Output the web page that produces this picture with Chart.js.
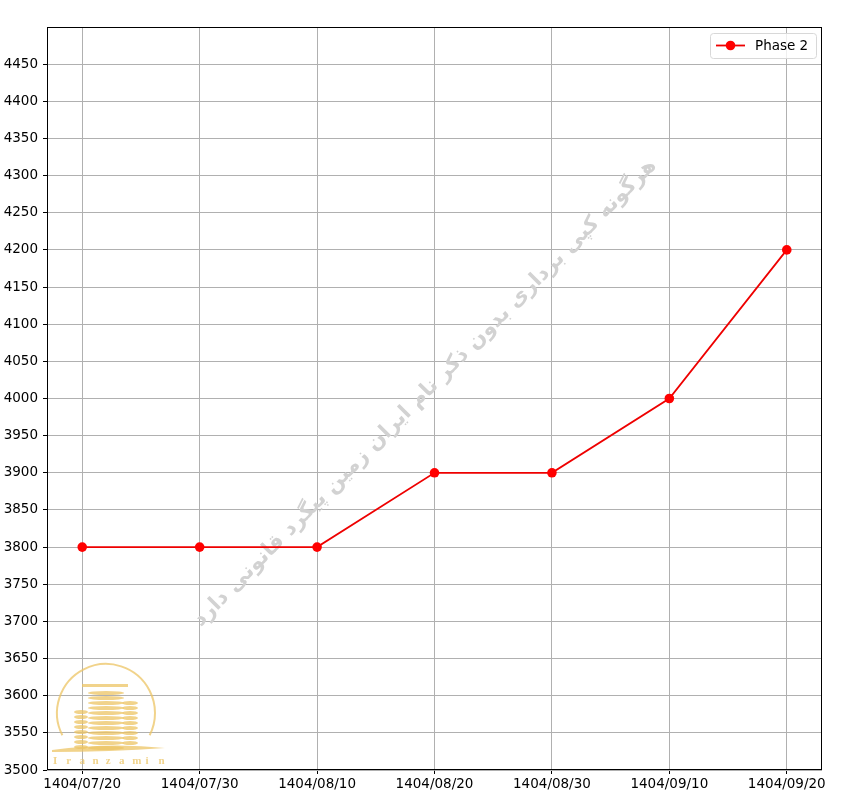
<!DOCTYPE html>
<html>
<head>
<meta charset="utf-8">
<script src="https://cdn.jsdelivr.net/npm/chart.js@4/dist/chart.umd.min.js"></script>
<style>
html,body{margin:0;padding:0;background:#fff;}
#wrap{width:853px;height:810px;position:relative;}
</style>
</head>
<body>
<div id="wrap"><canvas id="c" width="853" height="810"></canvas></div>
<script>
const dateLabels = ['1404/07/20','1404/07/30','1404/08/10','1404/08/20','1404/08/30','1404/09/10','1404/09/20'];
const phase2Values = [3800, 3800, 3800, 3900, 3900, 4000, 4200];
const seriesName = 'Phase 2';
const watermarkText = 'هرگونه کپی برداری بدون ذکر نام ایران زمین پیگرد قانونی دارد';
const logoText = 'Iranzamin';

const FONT = '"DejaVu Sans", sans-serif';

const framePlugin = {
  id: 'frame',
  beforeDatasetsDraw(chart) {
    const ctx = chart.ctx;
    ctx.save();
    ctx.fillStyle = '#d2d2d2';
    ctx.font = 'bold 21px ' + FONT;
    ctx.textAlign = 'center';
    ctx.textBaseline = 'middle';
    ctx.translate(425, 393);
    ctx.rotate(-Math.PI / 4 - 0.005);
    ctx.direction = 'rtl';
    ctx.fillText(watermarkText, 0, 0);
    ctx.restore();
    ctx.save();
    const gold = 'rgba(236,196,100,0.75)';
    ctx.strokeStyle = gold;
    ctx.lineWidth = 2;
    ctx.beginPath();
    ctx.arc(106, 713, 49, Math.PI * 0.85, Math.PI * 2.15);
    ctx.stroke();
    ctx.fillStyle = gold;
    const bldg = (x, w, top, bottom) => {
      for (let y = top; y < bottom; y += 5) {
        ctx.beginPath();
        ctx.ellipse(x + w / 2, y, w / 2, 2, 0, 0, Math.PI * 2);
        ctx.fill();
      }
    };
    bldg(74, 14, 712, 748);
    bldg(122, 16, 703, 748);
    bldg(88, 36, 693, 750);
    ctx.fillRect(82, 684, 46, 3);
    ctx.beginPath();
    ctx.moveTo(52, 750); ctx.quadraticCurveTo(110, 742, 165, 748);
    ctx.quadraticCurveTo(110, 752, 52, 752); ctx.fill();
    ctx.font = 'bold 11px "Liberation Serif", serif';
    ctx.textAlign = 'left';
    ctx.textBaseline = 'middle';
    let lx = 53;
    for (const ch of logoText) { ctx.fillText(ch, lx, 761); lx += 13.2; }
    ctx.restore();
  },
  afterDraw(chart) {
    const ctx = chart.ctx, a = chart.chartArea;
    ctx.save();
    ctx.strokeStyle = '#000';
    ctx.lineWidth = 1;
    ctx.strokeRect(Math.round(a.left) + 0.5, Math.round(a.top) + 0.5, Math.round(a.right - a.left) - 1, Math.round(a.bottom - a.top) - 1);
    const bx = 710.5, by = 33.5, bw = 106, bh = 25;
    ctx.fillStyle = 'rgba(255,255,255,0.8)';
    ctx.strokeStyle = '#d8d8d8';
    ctx.beginPath();
    ctx.roundRect(bx, by, bw, bh, 3);
    ctx.fill(); ctx.stroke();
    ctx.strokeStyle = '#ee0000';
    ctx.lineWidth = 1.8;
    ctx.beginPath(); ctx.moveTo(716, 45.5); ctx.lineTo(745, 45.5); ctx.stroke();
    ctx.fillStyle = '#ff0000';
    ctx.beginPath(); ctx.arc(730.5, 45.5, 4.8, 0, Math.PI * 2); ctx.fill();
    ctx.fillStyle = '#000';
    ctx.font = '13.5px ' + FONT;
    ctx.textAlign = 'left';
    ctx.textBaseline = 'middle';
    ctx.fillText(seriesName, 755, 46);
    ctx.restore();
  }
};

new Chart(document.getElementById('c'), {
  type: 'line',
  data: {
    datasets: [{
      label: seriesName,
      data: phase2Values.map((v, i) => ({ x: i, y: v })),
      borderColor: '#ee0000',
      backgroundColor: '#ff0000',
      borderWidth: 1.8,
      pointRadius: 4.8,
      pointBorderWidth: 0,
      pointHoverRadius: 4.8,
      tension: 0,
      fill: false
    }]
  },
  options: {
    responsive: false,
    animation: false,
    devicePixelRatio: 1,
    layout: { padding: { left: 0, top: 27, right: 31, bottom: 0 } },
    plugins: { legend: { display: false }, tooltip: { enabled: false } },
    scales: {
      x: {
        type: 'linear',
        min: -0.3,
        max: 6.3,
        afterBuildTicks(axis) { axis.ticks = dateLabels.map((_, i) => ({ value: i })); },
        afterFit(axis) { axis.height = 40; },
        ticks: {
          callback: (v) => dateLabels[v] ?? '',
          color: '#000',
          font: { family: FONT, size: 13.5 },
          padding: 2,
          maxRotation: 0,
          autoSkip: false
        },
        grid: { color: '#b0b0b0', lineWidth: 1, tickColor: '#000', tickLength: 4, drawTicks: true },
        border: { display: false }
      },
      y: {
        type: 'linear',
        min: 3500,
        max: 4500,
        afterBuildTicks(axis) {
          const t = [];
          for (let v = 3500; v <= 4500; v += 50) t.push({ value: v });
          axis.ticks = t;
        },
        afterFit(axis) { axis.width = 47; },
        ticks: {
          callback: (v) => (v >= 4500 ? '' : String(v)),
          color: '#000',
          font: { family: FONT, size: 13.5 },
          padding: 5,
          autoSkip: false
        },
        grid: { color: (c) => (c.tick && c.tick.value >= 4500 ? 'rgba(0,0,0,0)' : '#b0b0b0'), lineWidth: 1, tickColor: (c) => (c.tick && c.tick.value >= 4500 ? 'rgba(0,0,0,0)' : '#000'), tickLength: 4 },
        border: { display: false }
      }
    }
  },
  plugins: [framePlugin]
});
</script>
</body>
</html>
